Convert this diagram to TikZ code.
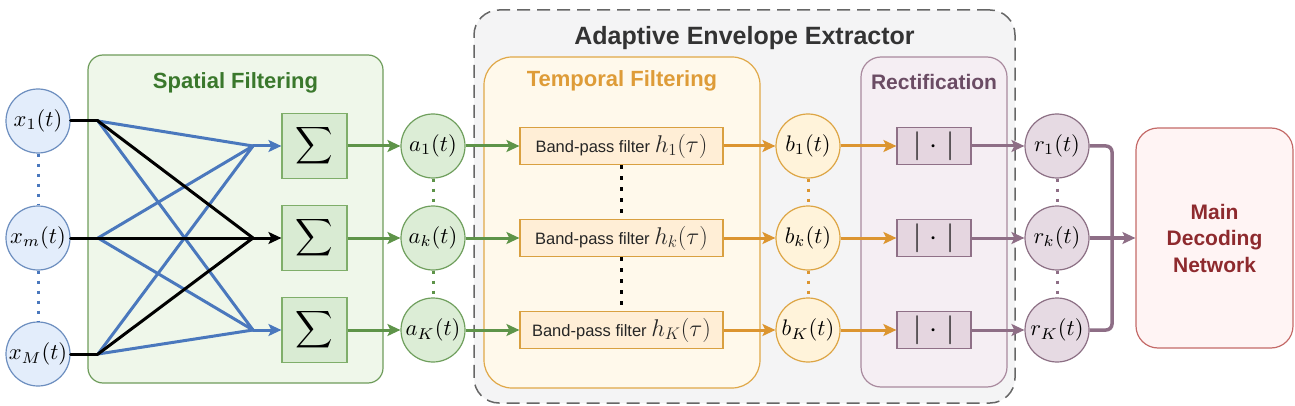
\documentclass[tikz,border=0pt]{standalone}
\usepackage{fontspec}
\setmainfont{Liberation Sans}
\usetikzlibrary{arrows.meta}
\newcommand{\mbig}[1]{\scalebox{2.25}{$#1$}}
\newcommand{\mbp}[1]{\scalebox{1.4}{$#1$}}
\newcommand{\msum}{\scalebox{2.6}{$\displaystyle\sum$}}
\newcommand{\mabs}{\scalebox{2.9}{$|\mkern1.5mu\cdot\mkern1.5mu|$}}
\definecolor{xfill}{HTML}{E3EDFB}
\definecolor{xdraw}{HTML}{6C8EBF}
\definecolor{bline}{HTML}{4A78BD}
\definecolor{spfill}{HTML}{EFF7EA}
\definecolor{spdraw}{HTML}{6E9C5B}
\definecolor{sumfill}{HTML}{D9EBD3}
\definecolor{sumdraw}{HTML}{7FAE6A}
\definecolor{garr}{HTML}{5E9449}
\definecolor{afill}{HTML}{DCEDD6}
\definecolor{adraw}{HTML}{6F9F5D}
\definecolor{gtitle}{HTML}{3A782C}
\definecolor{dfill}{HTML}{F4F4F5}
\definecolor{ddraw}{HTML}{666666}
\definecolor{tfill}{HTML}{FFF9EB}
\definecolor{tdraw}{HTML}{E0A848}
\definecolor{ttitle}{HTML}{DE9C38}
\definecolor{bpfill}{HTML}{FFEED6}
\definecolor{bpdraw}{HTML}{D9A040}
\definecolor{oarr}{HTML}{DC9530}
\definecolor{bfill}{HTML}{FFF3DA}
\definecolor{bdraw}{HTML}{DDA544}
\definecolor{rfill}{HTML}{F5EEF3}
\definecolor{rdraw}{HTML}{A98A9E}
\definecolor{rtitle}{HTML}{6B4C64}
\definecolor{absfill}{HTML}{E5D6E0}
\definecolor{absdraw}{HTML}{8F7087}
\definecolor{marr}{HTML}{8E6E86}
\definecolor{rcfill}{HTML}{E6DAE3}
\definecolor{rcdraw}{HTML}{8C6F84}
\definecolor{mainfill}{HTML}{FFF4F4}
\definecolor{maindraw}{HTML}{C46A68}
\definecolor{maintext}{HTML}{8E2A2E}
\definecolor{dtext}{HTML}{333333}
\tikzset{
  tip/.style={-{Stealth[length=13pt,width=12pt,inset=3pt]}},
  container/.style={rectangle, inner sep=0pt, line width=1.2pt},
  circnode/.style={circle, minimum size=64pt, inner sep=0pt, line width=1.2pt},
  xnode/.style={circnode, fill=xfill, draw=xdraw},
  anode/.style={circnode, fill=afill, draw=adraw},
  bnode/.style={circnode, fill=bfill, draw=bdraw},
  rnode/.style={circnode, fill=rcfill, draw=rcdraw},
  sumbox/.style={rectangle, minimum width=65pt, minimum height=65pt, inner sep=0pt, fill=sumfill, draw=sumdraw, line width=1.2pt},
  bpbox/.style={rectangle, minimum width=203pt, minimum height=37pt, inner sep=0pt, fill=bpfill, draw=bpdraw, line width=1.2pt, font=\fontsize{16.5}{18}\selectfont, text=black!85},
  absbox/.style={rectangle, minimum width=74pt, minimum height=37pt, inner sep=0pt, fill=absfill, draw=absdraw, line width=1.2pt},
  titletext/.style={font=\fontsize{22}{26}\selectfont\bfseries},
  bluelink/.style={draw=bline, line width=3pt, line cap=round},
  blacklink/.style={draw=black, line width=3pt, line cap=round},
  garrow/.style={draw=garr, line width=3pt, tip},
  oarrow/.style={draw=oarr, line width=3pt, tip},
  marrow/.style={draw=marr, line width=3pt, tip},
  mlink/.style={draw=marr, line width=3.5pt, rounded corners=6pt},
  dots/.style={line width=3pt, dash pattern=on 3pt off 7pt},
}
\begin{document}
\begin{tikzpicture}[x=1pt,y=-1pt]
\useasboundingbox (0,0) rectangle (1295,406);
% containers
\node[container, fill=dfill, draw=ddraw, dash pattern=on 13pt off 7pt, line width=1.5pt, rounded corners=25pt, minimum width=541pt, minimum height=393pt] (extractor) at (744.5,206.5) {};
\node[container, fill=spfill, draw=spdraw, rounded corners=15pt, minimum width=295pt, minimum height=328pt] (spatial) at (235.5,219) {};
\node[container, fill=tfill, draw=tdraw, rounded corners=28pt, minimum width=276pt, minimum height=331pt] (temporal) at (622,222.5) {};
\node[container, fill=rfill, draw=rdraw, rounded corners=20pt, minimum width=146pt, minimum height=330pt] (rect) at (934,222) {};
\node[container, fill=mainfill, draw=maindraw, rounded corners=22pt, minimum width=157pt, minimum height=220pt] (main) at (1214.5,238) {};
% titles
\node[titletext, text=gtitle] (tsp) at (235.5,83) {Spatial Filtering};
\node[font=\fontsize{25}{28}\selectfont\bfseries, text=dtext] (tex) at (744.5,38) {Adaptive Envelope Extractor};
\node[titletext, text=ttitle] (ttf) at (622,81) {Temporal Filtering};
\node[font=\fontsize{21}{26}\selectfont\bfseries, text=rtitle] (trc) at (934,82) {Rectification};
\node[font=\fontsize{21}{26.5}\selectfont\bfseries, text=maintext, align=center] (tmain) at (1214.5,238) {Main\\Decoding\\Network};
% input nodes
\node[xnode] (x1) at (38,121) {\mbig{x_1(t)}};
\node[xnode] (x2) at (38,238) {\mbig{x_m(t)}};
\node[xnode] (x3) at (38,354) {\mbig{x_M(t)}};
% sum boxes
\node[sumbox] (s1) at (314.5,146) {\msum};
\node[sumbox] (s2) at (314.5,238) {\msum};
\node[sumbox] (s3) at (314.5,330) {\msum};
% a nodes
\node[anode] (a1) at (433,146) {\mbig{a_1(t)}};
\node[anode] (a2) at (433,238) {\mbig{a_k(t)}};
\node[anode] (a3) at (433,330) {\mbig{a_K(t)}};
% band-pass
\node[bpbox] (bp1) at (621.5,146) {Band-pass filter \mbp{h_1(\tau)}};
\node[bpbox] (bp2) at (621.5,238) {Band-pass filter \mbp{h_k(\tau)}};
\node[bpbox] (bp3) at (621.5,330) {Band-pass filter \mbp{h_K(\tau)}};
% b nodes
\node[bnode] (b1) at (808,146) {\mbig{b_1(t)}};
\node[bnode] (b2) at (808,238) {\mbig{b_k(t)}};
\node[bnode] (b3) at (808,330) {\mbig{b_K(t)}};
% abs boxes
\node[absbox] (ab1) at (934,146) {\mabs};
\node[absbox] (ab2) at (934,238) {\mabs};
\node[absbox] (ab3) at (934,330) {\mabs};
% r nodes
\node[rnode] (r1) at (1057,146) {\mbig{r_1(t)}};
\node[rnode] (r2) at (1057,238) {\mbig{r_k(t)}};
\node[rnode] (r3) at (1057,330) {\mbig{r_K(t)}};
% junctions
\coordinate (jx1) at (98,121);
\coordinate (jx2) at (98,238);
\coordinate (jx3) at (98,354);
\coordinate (js1) at (253,146);
\coordinate (js2) at (253,238);
\coordinate (js3) at (253,330);
\coordinate (jm) at (1112,238);
% dotted separators
\draw[dots, draw=bline] (x1.south) -- (x2.north);
\draw[dots, draw=bline] (x2.south) -- (x3.north);
\draw[dots, draw=garr] (a1.south) -- (a2.north);
\draw[dots, draw=garr] (a2.south) -- (a3.north);
\draw[dots, draw=black, line width=3.5pt, dash pattern=on 3.5pt off 7.5pt] (bp1.south) -- (bp2.north);
\draw[dots, draw=black, line width=3.5pt, dash pattern=on 3.5pt off 7.5pt] (bp2.south) -- (bp3.north);
\draw[dots, draw=oarr] (b1.south) -- (b2.north);
\draw[dots, draw=oarr] (b2.south) -- (b3.north);
\draw[dots, draw=marr] (r1.south) -- (r2.north);
\draw[dots, draw=marr] (r2.south) -- (r3.north);
% spatial mixing
\draw[bluelink] (jx1) -- (js1);
\draw[bluelink] (jx1) -- (js3);
\draw[bluelink] (jx2) -- (js1);
\draw[bluelink] (jx2) -- (js3);
\draw[bluelink] (jx3) -- (js1);
\draw[bluelink] (jx3) -- (js3);
\draw[blacklink] (x1.east) -- (jx1);
\draw[blacklink] (x2.east) -- (jx2);
\draw[blacklink] (x3.east) -- (jx3);
\draw[blacklink] (jx1) -- (js2);
\draw[blacklink] (jx2) -- (js2);
\draw[blacklink] (jx3) -- (js2);
\draw[bluelink, tip] (js1) -- (s1.west);
\draw[blacklink, tip] (js2) -- (s2.west);
\draw[bluelink, tip] (js3) -- (s3.west);
% green arrows
\draw[garrow] (s1.east) -- (a1.west);
\draw[garrow] (s2.east) -- (a2.west);
\draw[garrow] (s3.east) -- (a3.west);
\draw[garrow] (a1.east) -- (bp1.west);
\draw[garrow] (a2.east) -- (bp2.west);
\draw[garrow] (a3.east) -- (bp3.west);
% orange arrows
\draw[oarrow] (bp1.east) -- (b1.west);
\draw[oarrow] (bp2.east) -- (b2.west);
\draw[oarrow] (bp3.east) -- (b3.west);
\draw[oarrow] (b1.east) -- (ab1.west);
\draw[oarrow] (b2.east) -- (ab2.west);
\draw[oarrow] (b3.east) -- (ab3.west);
% mauve arrows
\draw[marrow] (ab1.east) -- (r1.west);
\draw[marrow] (ab2.east) -- (r2.west);
\draw[marrow] (ab3.east) -- (r3.west);
\draw[mlink] (r1.east) -| (jm);
\draw[mlink] (r3.east) -| (jm);
\draw[marrow, line width=3.5pt] (r2.east) -- (main.west);
\end{tikzpicture}
\end{document}
